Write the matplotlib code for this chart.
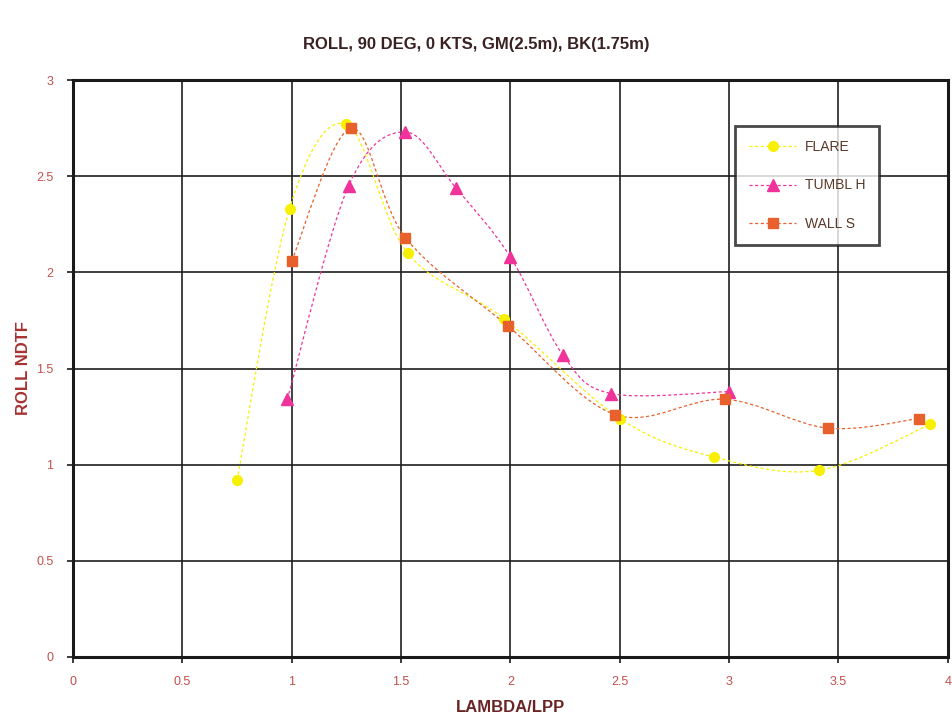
import numpy as np
import matplotlib
matplotlib.use("Agg")
import matplotlib.pyplot as plt
from matplotlib.path import Path
from matplotlib.patches import PathPatch
from matplotlib.lines import Line2D

plt.rcParams['font.family'] = ['Liberation Sans', 'DejaVu Sans']

# data
flare_x = [0.75, 0.99, 1.25, 1.53, 1.97, 2.50, 2.93, 3.41, 3.92]
flare_y = [0.92, 2.33, 2.77, 2.10, 1.76, 1.24, 1.04, 0.97, 1.21]

tumbl_x = [0.98, 1.26, 1.52, 1.75, 2.00, 2.24, 2.46, 3.00]
tumbl_y = [1.34, 2.45, 2.73, 2.44, 2.08, 1.57, 1.37, 1.38]

wall_x = [1.00, 1.27, 1.52, 1.99, 2.48, 2.98, 3.45, 3.87]
wall_y = [2.06, 2.75, 2.18, 1.72, 1.26, 1.34, 1.19, 1.24]

series = [
    ("FLARE", flare_x, flare_y, "#f7f000", "o", 7),
    ("TUMBL H", tumbl_x, tumbl_y, "#f0339a", "^", 8),
    ("WALL S", wall_x, wall_y, "#e8602c", "s", 7),
]


def smooth_path(x, y):
    # Excel-style smoothed line: cubic Bezier segments through every point
    pts = np.column_stack([x, y])
    verts = [pts[0]]
    codes = [Path.MOVETO]
    n = len(pts)
    for i in range(n - 1):
        p0 = pts[i - 1] if i > 0 else pts[i]
        p1 = pts[i]
        p2 = pts[i + 1]
        p3 = pts[i + 2] if i + 2 < n else pts[i + 1]
        c1 = p1 + (p2 - p0) / 6.0
        c2 = p2 - (p3 - p1) / 6.0
        verts += [c1, c2, p2]
        codes += [Path.CURVE4] * 3
    return Path(verts, codes)


fig = plt.figure(figsize=(9.53, 7.21), dpi=100)
ax = fig.add_axes([0.0766, 0.0888, 0.918, 0.8002])

for name, x, y, col, mk, ms in series:
    ax.add_patch(PathPatch(smooth_path(x, y), facecolor="none", edgecolor=col,
                           lw=0.9, linestyle=(0, (2.5, 2)), zorder=3))
    ax.plot(x, y, linestyle="none", marker=mk, color=col, markersize=ms, zorder=4)

ax.set_xlim(0, 4)
ax.set_ylim(0, 3)
ax.set_xticks(np.arange(0, 4.01, 0.5))
ax.set_yticks(np.arange(0, 3.01, 0.5))
ax.set_xticklabels(["0", "0.5", "1", "1.5", "2", "2.5", "3", "3.5", "4"])
ax.set_yticklabels(["0", "0.5", "1", "1.5", "2", "2.5", "3"])
ax.grid(True, color="#1f1f1f", lw=1.2)
ax.set_axisbelow(True)
for s in ax.spines.values():
    s.set_color("#1a1a1a")
    s.set_linewidth(2.2)
ax.tick_params(direction="out", length=4, width=1.2, color="#1a1a1a",
               labelsize=9, labelcolor="#c0504d", pad=10)

ax.set_xlabel("LAMBDA/LPP", fontsize=12, fontweight="bold", color="#6a2424", labelpad=8)
ax.set_ylabel("ROLL NDTF", fontsize=12, fontweight="bold", color="#a83232", labelpad=4)
fig.suptitle("ROLL, 90 DEG, 0 KTS, GM(2.5m), BK(1.75m)", fontsize=12, fontweight="bold",
             color="#3a2222", y=0.948)

handles = [Line2D([], [], color=col, lw=0.9, linestyle=(0, (2.5, 2)), marker=mk,
                  markersize=ms)
           for name, x, y, col, mk, ms in series]
leg = ax.legend(handles, [s[0] for s in series], loc="upper left",
                bbox_to_anchor=(0.749, 0.932), frameon=True, fancybox=False,
                edgecolor="#1a1a1a", borderpad=1.0, labelspacing=1.75,
                handlelength=3.4, handletextpad=0.6, fontsize=10)
leg.get_frame().set_linewidth(2.0)
for t in leg.get_texts():
    t.set_color("#5a3a2a")

fig.savefig("out.png", dpi=100)
